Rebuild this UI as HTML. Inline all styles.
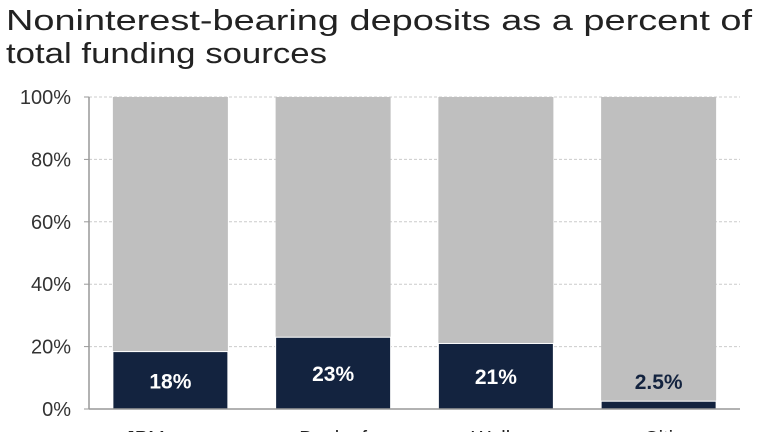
<!DOCTYPE html>
<html><head><meta charset="utf-8"><style>
body{margin:0;width:764px;height:432px;overflow:hidden;background:#fff;font-family:"Liberation Sans",sans-serif}
</style></head><body>
<svg width="764" height="432">
<text x="6" y="30" font-size="29" fill="#222" textLength="746" lengthAdjust="spacingAndGlyphs">Noninterest-bearing deposits as a percent of</text>
<text x="6" y="63" font-size="29" fill="#222" textLength="321" lengthAdjust="spacingAndGlyphs">total funding sources</text>
<g id="grid"></g><g id="bars"></g><g id="labels"></g>
<line x1="89" y1="97" x2="89" y2="409" stroke="#999" stroke-width="1.5"/>
<line x1="89" y1="409" x2="740" y2="409" stroke="#999" stroke-width="1.5"/>
</svg>
<script>
const categories=["JPMorgan","Bank of America","Wells Fargo","Citigroup"];
const shortLabels=["JPMorgan","Bank of","Wells","Citi"];
const values=[18.4,23,21,2.5];
const valueLabels=["18%","23%","21%","2.5%"];
const ticks=[0,20,40,60,80,100];
const ns="http://www.w3.org/2000/svg";
const x0=89,x1=740,yTop=97,yBot=409;
const y=v=>yBot-(v/100)*(yBot-yTop);
const step=(x1-x0)/categories.length, bw=115;
const cx=i=>x0+step*(i+0.5);
function mk(t,a,p){const e=document.createElementNS(ns,t);for(const k in a)e.setAttribute(k,a[k]);document.getElementById(p).appendChild(e);return e;}
ticks.forEach(t=>{
 if(t>0){const l=mk('line',{x1:x0,x2:x1,y1:y(t),y2:y(t),stroke:'#ccc','stroke-dasharray':'3,2'},'grid');
 
 }
 const tk=mk('line',{x1:x0-5,x2:x0,y1:y(t),y2:y(t),stroke:'#999'},'grid');
 
 
 const tx=mk('text',{x:x0-18,y:y(t)+7,'text-anchor':'end','font-size':20,fill:'#333'},'grid');
 tx.textContent=t+'%';
 
 
});
categories.forEach((c,i)=>{
 const bg=mk('rect',{x:cx(i)-bw/2,y:y(100),width:bw,height:y(0)-y(100),fill:'#bfbfbf'},'bars');
 
 
 const b=mk('rect',{x:cx(i)-bw/2,y:y(values[i]),width:bw,height:y(0)-y(values[i]),fill:'#13233f',stroke:'#fff','stroke-width':1},'bars');
 
 
 const inside=values[i]>8;
 const ly=inside?(y(values[i])+y(0))/2+8:y(values[i])-12;
 const t=mk('text',{x:cx(i),y:ly,'text-anchor':'middle','font-size':21,'font-weight':'bold',fill:inside?'#fff':'#13233f'},'labels');
 t.textContent=valueLabels[i];
 
 
 const cl=mk('text',{x:cx(i),y:445,'text-anchor':'middle','font-size':20,fill:'#222'},'labels');
 cl.textContent=shortLabels[i];
 
 
});
</script>
</body></html>
